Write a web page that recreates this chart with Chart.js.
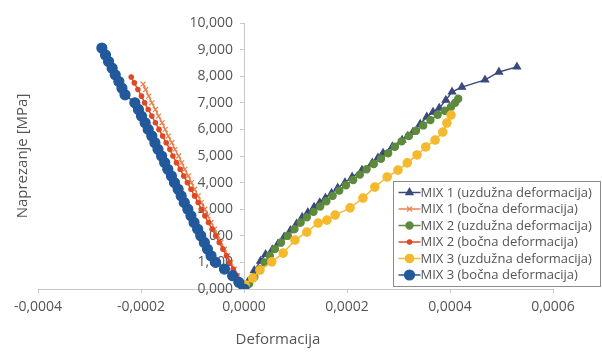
<!DOCTYPE html>
<html lang="hr">
<head>
    <meta charset="UTF-8">
    <title>Naprezanje - deformacija</title>
    <script src="https://cdn.jsdelivr.net/npm/chart.js"></script>
    <style>
        html, body { margin: 0; padding: 0; background: #fff; }
        #wrap { width: 602px; height: 353px; }
    </style>
</head>
<body>
    <div id="wrap"><canvas id="chart" width="602" height="353"></canvas></div>

    <script>
        // Data (stress in MPa, strain dimensionless)
        const seriesNames = [
            'MIX 1 (uzdužna deformacija)',
            'MIX 1 (bočna deformacija)',
            'MIX 2 (uzdužna deformacija)',
            'MIX 2 (bočna deformacija)',
            'MIX 3 (uzdužna deformacija)',
            'MIX 3 (bočna deformacija)'
        ];

        const mix1UzdX = [0, 0.000008, 0.000020, 0.000032, 0.000042, 0.000055, 0.000066, 0.000078, 0.000090, 0.000102,
            0.000113, 0.000124, 0.000136, 0.000147, 0.000158, 0.000170, 0.000182, 0.000196, 0.000210, 0.000229,
            0.000249, 0.000260, 0.000270, 0.000288, 0.000307, 0.000318, 0.000328, 0.000342, 0.000355, 0.000367,
            0.000379, 0.000392, 0.000404, 0.000423, 0.000468, 0.000495, 0.000530];
        const mix1UzdY = [0, 0.28, 0.70, 1.05, 1.30, 1.48, 1.70, 1.96, 2.20, 2.45,
            2.70, 2.88, 3.08, 3.25, 3.42, 3.60, 3.80, 4.00, 4.21, 4.47,
            4.74, 4.93, 5.11, 5.35, 5.60, 5.75, 5.90, 6.20, 6.47, 6.65,
            6.80, 7.10, 7.41, 7.59, 7.86, 8.16, 8.35];

        const mix1BocY = [0, 0.25, 0.5, 0.75, 1.0, 1.25, 1.5, 1.75, 2.0, 2.25, 2.5, 2.75, 3.0, 3.25, 3.5, 3.75,
            4.0, 4.25, 4.5, 4.75, 5.0, 5.25, 5.5, 5.75, 6.0, 6.25, 6.5, 6.75, 7.0, 7.25, 7.5, 7.7];
        const mix1BocX = [0, -0.000007, -0.000013, -0.000019, -0.000026, -0.000032, -0.000038, -0.000045,
            -0.000051, -0.000057, -0.000064, -0.000070, -0.000076, -0.000083, -0.000089, -0.000096,
            -0.000102, -0.000108, -0.000115, -0.000121, -0.000127, -0.000134, -0.000140, -0.000147,
            -0.000153, -0.000159, -0.000166, -0.000172, -0.000179, -0.000185, -0.000191, -0.000196];

        const mix2UzdX = [0, 0.000010, 0.000020, 0.000030, 0.000040, 0.000050, 0.000060, 0.000072, 0.000085, 0.000098,
            0.000110, 0.000122, 0.000135, 0.000148, 0.000160, 0.000172, 0.000185, 0.000198, 0.000212, 0.000225,
            0.000238, 0.000252, 0.000266, 0.000280, 0.000293, 0.000306, 0.000320, 0.000334, 0.000348, 0.000362,
            0.000376, 0.000390, 0.000402, 0.000410, 0.000416];
        const mix2UzdY = [0, 0.20, 0.45, 0.75, 1.00, 1.25, 1.50, 1.75, 2.00, 2.25,
            2.50, 2.70, 2.90, 3.10, 3.30, 3.50, 3.70, 3.90, 4.10, 4.30,
            4.50, 4.70, 4.90, 5.10, 5.35, 5.55, 5.75, 5.95, 6.15, 6.35,
            6.55, 6.70, 6.85, 7.00, 7.15];

        const mix2BocY = [0, 0.25, 0.5, 0.75, 1.0, 1.25, 1.5, 1.75, 2.0, 2.25, 2.5, 2.75, 3.0, 3.25, 3.5, 3.75,
            4.0, 4.25, 4.5, 4.75, 5.0, 5.25, 5.5, 5.75, 6.0, 6.25, 6.5, 6.75, 7.0, 7.25, 7.5, 7.75, 7.97];
        const mix2BocX = [0, -0.000007, -0.000014, -0.000021, -0.000028, -0.000034, -0.000041, -0.000048,
            -0.000055, -0.000062, -0.000069, -0.000076, -0.000083, -0.000089, -0.000096, -0.000103,
            -0.000110, -0.000117, -0.000124, -0.000131, -0.000138, -0.000144, -0.000151, -0.000158,
            -0.000165, -0.000172, -0.000179, -0.000186, -0.000193, -0.000199, -0.000206, -0.000213, -0.000219];

        const mix3UzdX = [0, 0.000002, 0.000017, 0.000031, 0.000054, 0.000076, 0.000099, 0.000122, 0.000144, 0.000161,
            0.000177, 0.000206, 0.000231, 0.000254, 0.000278, 0.000299, 0.000317, 0.000336, 0.000353, 0.000371,
            0.000386, 0.000394, 0.000402];
        const mix3UzdY = [0, 0.15, 0.41, 0.71, 1.02, 1.35, 1.84, 2.14, 2.48, 2.59,
            2.78, 3.05, 3.42, 3.83, 4.21, 4.47, 4.74, 5.04, 5.34, 5.60,
            5.90, 6.24, 6.54];

        const mix3BocY = [0, 0.25, 0.5, 0.75, 1.0, 1.25, 1.5, 1.75, 2.0, 2.25, 2.5, 2.75, 3.0, 3.25, 3.5, 3.75,
            4.0, 4.25, 4.5, 4.75, 5.0, 5.25, 5.5, 5.75, 6.0, 6.25, 6.5, 6.75, 7.0,
            7.3, 7.55, 7.8, 8.05, 8.3, 8.55, 8.8, 9.06];
        const mix3BocX = [0, -0.000010, -0.000022, -0.000038, -0.000055, -0.000064, -0.000071, -0.000077,
            -0.000084, -0.000090, -0.000097, -0.000103, -0.000109, -0.000116, -0.000122, -0.000128,
            -0.000135, -0.000141, -0.000148, -0.000154, -0.000160, -0.000167, -0.000173, -0.000179,
            -0.000186, -0.000192, -0.000199, -0.000205, -0.000212,
            -0.000231, -0.000237, -0.000243, -0.000250, -0.000256, -0.000263, -0.000269, -0.000276];

        const xTicks = [-0.0004, -0.0002, 0, 0.0002, 0.0004, 0.0006];
        const yTicks = [0, 1, 2, 3, 4, 5, 6, 7, 8, 9, 10];

        function pairs(xs, ys) {
            return xs.map((x, i) => ({ x: x, y: ys[i] }));
        }

        const FONT = '"Open Sans", "DejaVu Sans", sans-serif';
        const textColor = '#555555';

        const datasets = [
            { label: seriesNames[0], data: pairs(mix1UzdX, mix1UzdY), borderColor: '#3b4a7c', backgroundColor: '#3b4a7c',
              pointStyle: 'triangle', pointRadius: 4.2, order: 5 },
            { label: seriesNames[1], data: pairs(mix1BocX, mix1BocY), borderColor: '#e8834f', backgroundColor: '#e8834f',
              pointStyle: 'crossRot', pointRadius: 3.5, order: 4 },
            { label: seriesNames[2], data: pairs(mix2UzdX, mix2UzdY), borderColor: '#5d8a3c', backgroundColor: '#5d8a3c',
              pointStyle: 'circle', pointRadius: 3.6, order: 3 },
            { label: seriesNames[3], data: pairs(mix2BocX, mix2BocY), borderColor: '#de4a26', backgroundColor: '#de4a26',
              pointStyle: 'circle', pointRadius: 2.2, order: 2 },
            { label: seriesNames[4], data: pairs(mix3UzdX, mix3UzdY), borderColor: '#f5b92e', backgroundColor: '#f5b92e',
              pointStyle: 'circle', pointRadius: 4.2, order: 1 },
            { label: seriesNames[5], data: pairs(mix3BocX, mix3BocY), borderColor: '#22599b', backgroundColor: '#22599b',
              pointStyle: 'circle', pointRadius: 5, order: 0 }
        ];
        datasets.forEach(d => {
            d.showLine = true;
            d.borderWidth = 1.5;
            d.pointBorderWidth = 1.2;
            d.pointHoverRadius = d.pointRadius;
        });

        // Excel-like legend box inside the plot (bottom right) + x axis title
        const boxLegend = {
            id: 'boxLegend',
            afterDraw(chart) {
                const ctx = chart.ctx;
                const left = 393.5, top = 181.5, w = 207, h = 105;
                ctx.save();
                ctx.fillStyle = '#ffffff';
                ctx.fillRect(left, top, w, h);
                ctx.strokeStyle = '#8c8c8c';
                ctx.lineWidth = 1;
                ctx.strokeRect(left, top, w, h);
                ctx.font = '13px ' + FONT;
                ctx.textBaseline = 'middle';
                chart.data.datasets.forEach((ds, i) => {
                    const y = top + 11 + i * 16.5;
                    ctx.strokeStyle = ds.borderColor;
                    ctx.lineWidth = 1.5;
                    ctx.beginPath();
                    ctx.moveTo(left + 5, y);
                    ctx.lineTo(left + 27, y);
                    ctx.stroke();
                    ctx.fillStyle = ds.backgroundColor;
                    ctx.lineWidth = 1.2;
                    Chart.helpers.drawPoint(ctx, {
                        pointStyle: ds.pointStyle, radius: ds.pointRadius, rotation: 0, borderWidth: 1.2
                    }, left + 16, y);
                    ctx.fillStyle = textColor;
                    ctx.fillText(ds.label, left + 27, y + 0.5);
                });

                // x axis title sits left of the plot centre in the original
                ctx.font = '15px ' + FONT;
                ctx.fillStyle = textColor;
                ctx.textAlign = 'center';
                ctx.fillText('Deformacija', 278, 340);
                ctx.restore();
            }
        };

        const fmt = (v, d) => v.toFixed(d).replace('.', ',');

        new Chart(document.getElementById('chart'), {
            type: 'scatter',
            data: { datasets: datasets },
            plugins: [boxLegend],
            options: {
                responsive: false,
                animation: false,
                events: [],
                layout: { padding: { top: 23, right: 49, left: 0, bottom: 0 } },
                plugins: { legend: { display: false }, tooltip: { enabled: false } },
                scales: {
                    x: {
                        type: 'linear',
                        position: 'bottom',
                        min: -0.0004,
                        max: 0.0006,
                        afterBuildTicks: s => { s.ticks = xTicks.map(v => ({ value: v })); },
                        afterFit: s => { s.height = 64; },
                        border: { color: '#c8c8c8', width: 1 },
                        grid: { drawOnChartArea: false, drawTicks: true, tickLength: 4, color: '#c8c8c8' },
                        ticks: {
                            padding: 6,
                            color: textColor,
                            font: { family: FONT, size: 14 },
                            maxRotation: 0,
                            callback: v => fmt(v, 4)
                        }
                    },
                    y: {
                        type: 'linear',
                        position: { x: 0 },
                        min: 0,
                        max: 10,
                        afterBuildTicks: s => { s.ticks = yTicks.map(v => ({ value: v })); },
                        border: { color: '#c8c8c8', width: 1 },
                        grid: { drawOnChartArea: false, drawTicks: true, tickLength: 4, color: '#c8c8c8' },
                        ticks: {
                            color: textColor,
                            font: { family: FONT, size: 14 },
                            // labels of a value-positioned axis get no padding, so pad with spaces
                            callback: v => fmt(v, 3) + '   '
                        }
                    },
                    yTitle: {
                        type: 'linear',
                        position: 'left',
                        afterFit: s => { s.width = 38; },
                        border: { display: false },
                        grid: { display: false },
                        ticks: { display: false },
                        title: {
                            display: true,
                            text: 'Naprezanje [MPa]',
                            color: textColor,
                            font: { family: FONT, size: 15 },
                            padding: { top: 14, bottom: 0 }
                        }
                    }
                }
            }
        });
    </script>
</body>
</html>
